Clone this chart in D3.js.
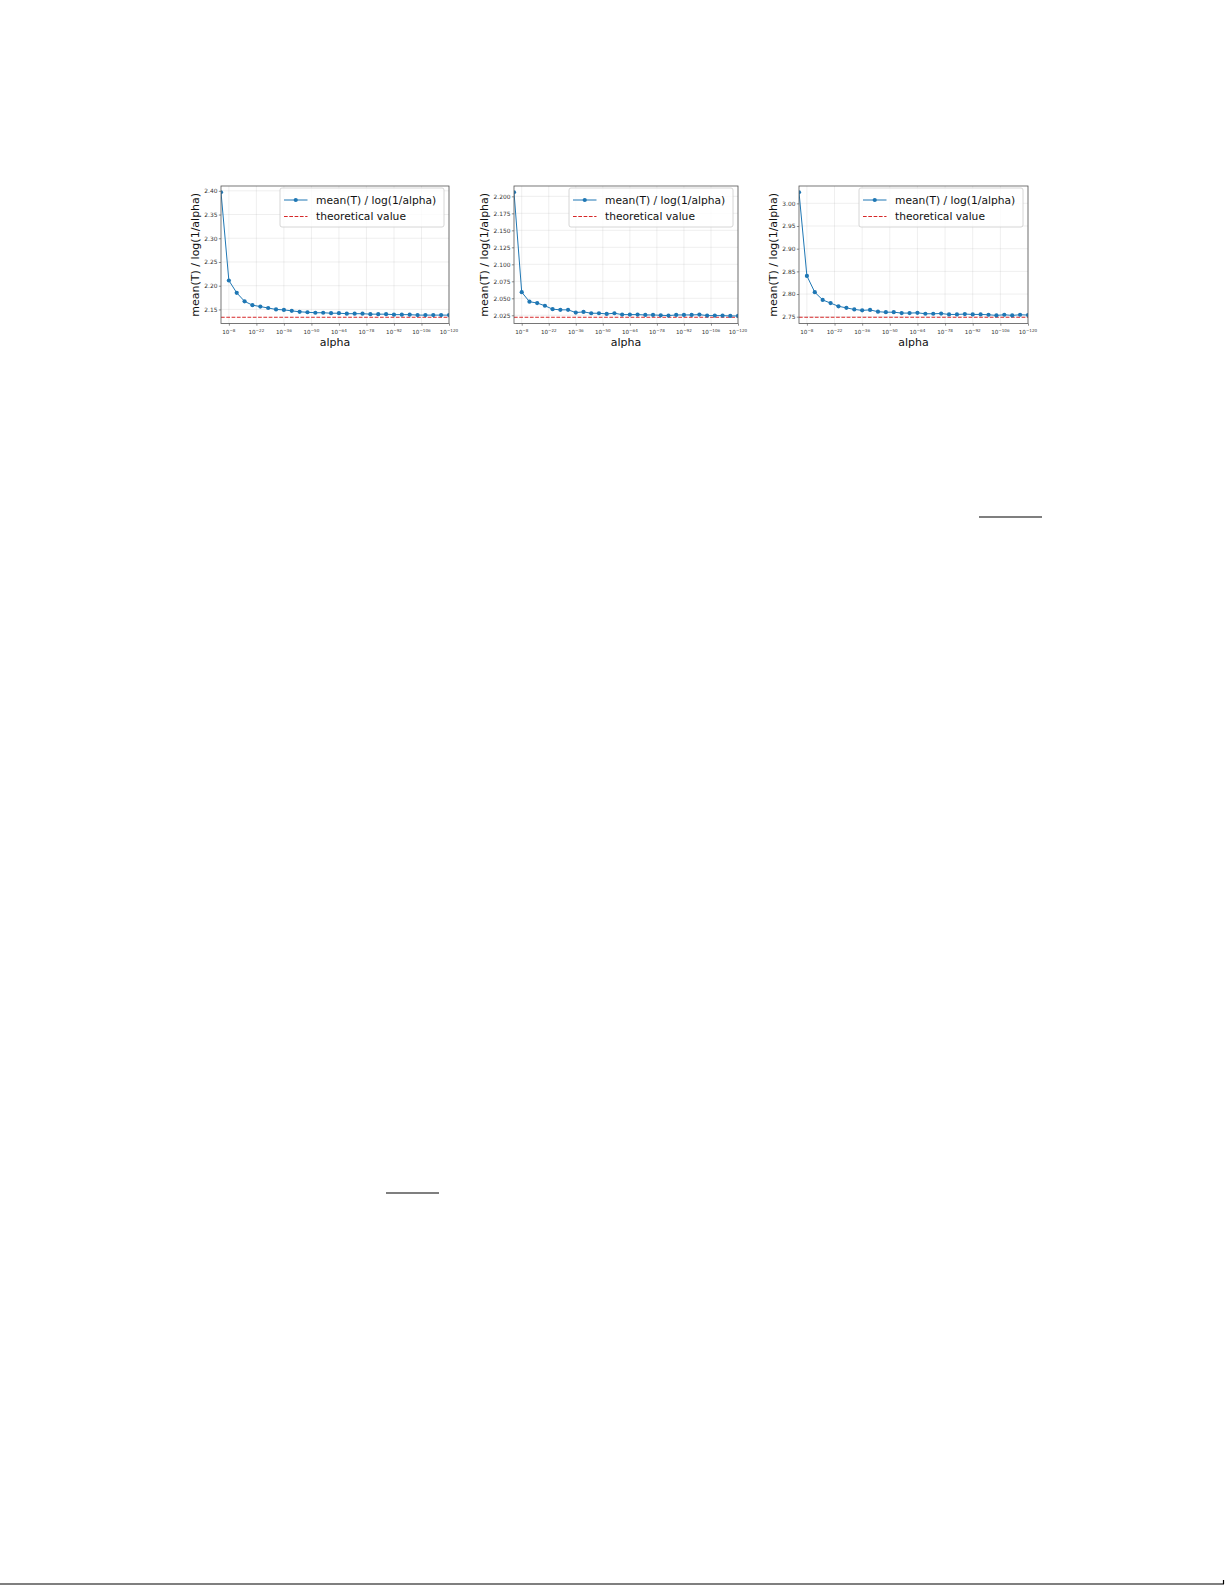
<!DOCTYPE html>
<html>
<head>
<meta charset="utf-8">
<script src="https://cdn.jsdelivr.net/npm/d3@7"></script>
<style>
  body { margin: 0; background: #fff; }
  svg { display: block; font-family: "DejaVu Sans", sans-serif; }
</style>
</head>
<body>
<svg id="page" width="1225" height="1585"></svg>
<script>
// alpha = 10^exponent, one point per exponent
const alphaExp = [-4, -8, -12, -16, -20, -24, -28, -32, -36, -40, -44, -48, -52, -56, -60,
  -64, -68, -72, -76, -80, -84, -88, -92, -96, -100, -104, -108, -112, -116, -120];

// mean(T) / log(1/alpha)
const ratioA = [2.397, 2.211, 2.185, 2.167, 2.159, 2.156, 2.153, 2.150, 2.149, 2.147,
  2.145, 2.144, 2.143, 2.143, 2.142, 2.142, 2.141, 2.141, 2.141, 2.140,
  2.140, 2.140, 2.139, 2.139, 2.139, 2.138, 2.138, 2.138, 2.138, 2.138];
const ratioB = [2.206, 2.059, 2.045, 2.043, 2.039, 2.034, 2.033, 2.033, 2.029, 2.030,
  2.028, 2.028, 2.027, 2.028, 2.026, 2.026, 2.026, 2.0255, 2.0255, 2.025,
  2.0245, 2.0255, 2.0255, 2.0255, 2.026, 2.0245, 2.0245, 2.0245, 2.024, 2.024];
const ratioC = [3.0245, 2.840, 2.804, 2.787, 2.780, 2.773, 2.7695, 2.766, 2.764, 2.765,
  2.761, 2.760, 2.760, 2.758, 2.758, 2.7586, 2.7565, 2.7565, 2.757, 2.755,
  2.755, 2.7558, 2.755, 2.755, 2.7543, 2.7529, 2.7543, 2.7529, 2.7543, 2.7536];

const theoryA = 2.1335, theoryB = 2.0221, theoryC = 2.7488;

const xTickExp = [-8, -22, -36, -50, -64, -78, -92, -106, -120];
const yTicksA = [2.15, 2.20, 2.25, 2.30, 2.35, 2.40];
const yTicksB = [2.025, 2.050, 2.075, 2.100, 2.125, 2.150, 2.175, 2.200];
const yTicksC = [2.75, 2.80, 2.85, 2.90, 2.95, 3.00];

const seriesLabel = "mean(T) / log(1/alpha)";
const theoryLabel = "theoretical value";
const xLabel = "alpha";

// stray page rules (fraction bars / page edge)
const pageRules = [
  [979, 517, 1042, 517],
  [386, 1193, 439, 1193],
  [0, 1584, 1224, 1584],
  [1223.5, 1580, 1223.5, 1584]
];

const blue = "#1f77b4", red = "#d62728";
const plotTop = 186, plotBottom = 323.5;

const panels = [
  { id: "a", values: ratioA, theory: theoryA, yTicks: yTicksA, fmt: ".2f", x0: 221, x1: 449, labelGap: 26 },
  { id: "b", values: ratioB, theory: theoryB, yTicks: yTicksB, fmt: ".3f", x0: 514, x1: 738, labelGap: 30 },
  { id: "c", values: ratioC, theory: theoryC, yTicks: yTicksC, fmt: ".2f", x0: 799, x1: 1028, labelGap: 26 }
];

const svg = d3.select("#page");

function plotPanel(p) {
  const pts = alphaExp.map((e, i) => ({ a: Math.pow(10, e), v: p.values[i] }));

  const x = d3.scaleLog()
    .domain([d3.max(pts, d => d.a), d3.min(pts, d => d.a)])
    .range([p.x0, p.x1]);

  const ext = d3.extent(p.values.concat([p.theory]));
  const pad = (ext[1] - ext[0]) * 0.05;
  const y = d3.scaleLinear()
    .domain([ext[0] - pad, ext[1] + pad])
    .range([plotBottom, plotTop]);

  const g = svg.append("g").attr("class", "panel-" + p.id);

  g.append("clipPath").attr("id", "clip-" + p.id)
    .append("rect")
    .attr("x", p.x0).attr("y", plotTop)
    .attr("width", p.x1 - p.x0).attr("height", plotBottom - plotTop);

  // grid
  const grid = g.append("g").attr("stroke", "#b0b0b0").attr("stroke-opacity", 0.35).attr("stroke-width", 0.6);
  grid.selectAll("line.gx").data(xTickExp).enter().append("line")
    .attr("x1", e => x(Math.pow(10, e))).attr("x2", e => x(Math.pow(10, e)))
    .attr("y1", plotTop).attr("y2", plotBottom);
  grid.selectAll("line.gy").data(p.yTicks).enter().append("line")
    .attr("x1", p.x0).attr("x2", p.x1)
    .attr("y1", d => y(d)).attr("y2", d => y(d));

  // y axis
  const yAxis = g.append("g")
    .attr("transform", "translate(" + p.x0 + ",0)")
    .call(d3.axisLeft(y).tickValues(p.yTicks).tickFormat(d3.format(p.fmt)).tickSize(2.2).tickPadding(1.4));
  yAxis.select(".domain").remove();
  yAxis.selectAll("line").attr("stroke", "#444").attr("stroke-width", 0.6);
  yAxis.selectAll("text").attr("font-size", 5.9).attr("fill", "#333")
    .attr("font-family", "DejaVu Sans, sans-serif");

  // x axis (log, decreasing alpha to the right)
  const xAxis = g.append("g")
    .attr("transform", "translate(0," + plotBottom + ")")
    .call(d3.axisBottom(x).tickValues(xTickExp.map(e => Math.pow(10, e))).tickFormat("").tickSize(2.2));
  xAxis.select(".domain").remove();
  xAxis.selectAll("line").attr("stroke", "#444").attr("stroke-width", 0.6);
  const xl = g.append("g").attr("font-size", 5.6).attr("fill", "#333");
  const lab = xl.selectAll("text").data(xTickExp).enter().append("text")
    .attr("x", e => x(Math.pow(10, e)))
    .attr("y", plotBottom + 10.5)
    .attr("text-anchor", "middle");
  lab.append("tspan").text("10");
  lab.append("tspan").attr("font-size", 4.1).attr("dy", -2.4).text(e => "\u2212" + Math.abs(e));

  // data
  const clipped = g.append("g").attr("clip-path", "url(#clip-" + p.id + ")");
  clipped.append("line")
    .attr("x1", p.x0).attr("x2", p.x1)
    .attr("y1", y(p.theory)).attr("y2", y(p.theory))
    .attr("stroke", red).attr("stroke-width", 1).attr("stroke-dasharray", "3.7,1.6");

  const line = d3.line().x(d => x(d.a)).y(d => y(d.v));
  clipped.append("path").datum(pts)
    .attr("d", line).attr("fill", "none")
    .attr("stroke", blue).attr("stroke-width", 1);
  clipped.selectAll("circle").data(pts).enter().append("circle")
    .attr("cx", d => x(d.a)).attr("cy", d => y(d.v))
    .attr("r", 2.1).attr("fill", blue);

  // frame
  g.append("rect")
    .attr("x", p.x0).attr("y", plotTop)
    .attr("width", p.x1 - p.x0).attr("height", plotBottom - plotTop)
    .attr("fill", "none").attr("stroke", "#555").attr("stroke-width", 0.8);

  // labels
  g.append("text")
    .attr("x", (p.x0 + p.x1) / 2).attr("y", plotBottom + 22)
    .attr("text-anchor", "middle").attr("font-size", 11).attr("fill", "#111")
    .text(xLabel);
  g.append("text")
    .attr("transform", "translate(" + (p.x0 - p.labelGap) + "," + ((plotTop + plotBottom) / 2) + ") rotate(-90)")
    .attr("text-anchor", "middle").attr("dy", "0.35em").attr("font-size", 11).attr("fill", "#111")
    .text(seriesLabel);

  // legend
  const lw = 164, lh = 39;
  const leg = g.append("g").attr("transform", "translate(" + (p.x1 - 5 - lw) + "," + (plotTop + 2) + ")");
  leg.append("rect").attr("width", lw).attr("height", lh).attr("rx", 2)
    .attr("fill", "#fff").attr("fill-opacity", 0.8)
    .attr("stroke", "#ccc").attr("stroke-width", 0.8);
  leg.append("line").attr("x1", 4).attr("x2", 27.5).attr("y1", 12).attr("y2", 12)
    .attr("stroke", blue).attr("stroke-width", 1);
  leg.append("circle").attr("cx", 15.75).attr("cy", 12).attr("r", 2.1).attr("fill", blue);
  leg.append("line").attr("x1", 4).attr("x2", 27.5).attr("y1", 28.5).attr("y2", 28.5)
    .attr("stroke", red).attr("stroke-width", 1).attr("stroke-dasharray", "3.7,1.6");
  leg.append("text").attr("x", 36).attr("y", 12).attr("dy", "0.36em")
    .attr("font-size", 10.7).attr("fill", "#111").text(seriesLabel);
  leg.append("text").attr("x", 36).attr("y", 28.5).attr("dy", "0.36em")
    .attr("font-size", 10.7).attr("fill", "#111").text(theoryLabel);
}

panels.forEach(plotPanel);

svg.append("g").attr("stroke", "#000").attr("stroke-width", 1.2)
  .selectAll("line").data(pageRules).enter().append("line")
  .attr("x1", d => d[0]).attr("y1", d => d[1])
  .attr("x2", d => d[2]).attr("y2", d => d[3]);
</script>
</body>
</html>
